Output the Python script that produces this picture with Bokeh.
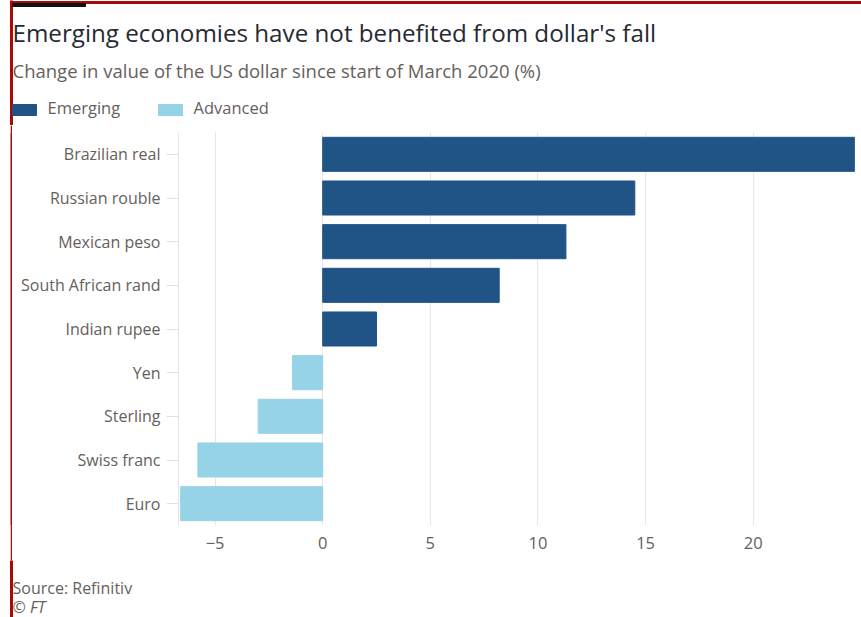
from bokeh.plotting import figure
from bokeh.models import FactorRange, Range1d, ColumnDataSource, FixedTicker
from bokeh.layouts import column, row, Spacer
from bokeh.core.properties import value
from bokeh.embed import file_html
from bokeh.resources import INLINE

currencies = ["Brazilian real", "Russian rouble", "Mexican peso", "South African rand",
              "Indian rupee", "Yen", "Sterling", "Swiss franc", "Euro"]
change = [24.7, 14.5, 11.3, 8.2, 2.5, -1.4, -3.0, -5.8, -6.6]
group = ["Emerging"] * 5 + ["Advanced"] * 4
legend_names = ["Emerging", "Advanced"]
x_ticks = [-5, 0, 5, 10, 15, 20]
title = "Emerging economies have not benefited from dollar's fall"
subtitle = "Change in value of the US dollar since start of March 2020 (%)"
source_note = "Source: Refinitiv"
credit = "© FT"

DARK = "#205487"
LIGHT = "#96d3e6"
TXT = "#66605c"
RED = "#a80a0a"
FONT = "Open Sans"
palette = {"Emerging": DARK, "Advanced": LIGHT}
colors = [palette[g] for g in group]

W, H = 861, 617
HEAD_H, FOOT_H = 125, 57
MAIN_H = H - HEAD_H - FOOT_H
LEFT_GAP, RED_W = 10, 2


def canvas_fig(w, h):
    f = figure(width=w, height=h, x_range=Range1d(0, w), y_range=Range1d(h, 0),
               output_backend="svg", toolbar_location=None, tools="",
               x_axis_location=None, y_axis_location=None,
               min_border=0, min_border_left=0, min_border_right=0,
               min_border_top=0, min_border_bottom=0)
    f.grid.visible = False
    f.outline_line_color = None
    f.background_fill_color = "white"
    f.border_fill_color = "white"
    return f


# ---- header ----
head = canvas_fig(W, HEAD_H)
head.quad(left=[10], right=[12], top=[0], bottom=[HEAD_H], color=RED)
head.quad(left=[10], right=[W], top=[1], bottom=[3], color=RED)
head.quad(left=[12], right=[85], top=[3], bottom=[6], color="#111111")
head.text(x=[12], y=[32], text=[title], text_font=value(FONT), text_font_size=value("24.2px"),
          text_color="#262a33", text_baseline="alphabetic")
head.text(x=[12], y=[70], text=[subtitle], text_font=value(FONT), text_font_size=value("18.5px"),
          text_color=TXT, text_baseline="alphabetic")
sw_x = [12, 158]
head.quad(left=sw_x, right=[x + 24 for x in sw_x], top=[104] * 2, bottom=[115] * 2,
          color=[palette[n] for n in legend_names])
head.text(x=[x + 35 for x in sw_x], y=[107] * 2, text=legend_names, text_font=value(FONT),
          text_font_size=value("16.5px"), text_color=TXT, text_baseline="alphabetic")

# ---- left red rule (figure filled red) ----
rule = figure(width=RED_W, height=MAIN_H, output_backend="svg", toolbar_location=None, tools="",
              x_axis_location=None, y_axis_location=None, min_border=0)
rule.grid.visible = False
rule.outline_line_color = None
rule.background_fill_color = RED
rule.border_fill_color = RED

# ---- main chart ----
FL = 178 - LEFT_GAP - RED_W
FR = 5
FT_ = 132 - HEAD_H
FB = (HEAD_H + MAIN_H) - 525

src = ColumnDataSource(dict(cur=currencies, val=change, col=colors))
p = figure(width=W - LEFT_GAP - RED_W, height=MAIN_H, y_range=FactorRange(*reversed(currencies)),
           x_range=(-6.7, 24.8), output_backend="svg", toolbar_location=None, tools="",
           min_border_left=FL, min_border_right=FR, min_border_top=FT_, min_border_bottom=FB)
p.hbar(y="cur", left=0, right="val", height=0.78, color="col", source=src)
p.background_fill_color = "white"
p.border_fill_color = "white"
p.outline_line_color = None
p.ygrid.grid_line_color = None
p.xgrid.grid_line_color = "#ebe5e1"
p.xgrid.ticker = FixedTicker(ticks=x_ticks)
p.xaxis.ticker = FixedTicker(ticks=x_ticks)
p.xaxis.axis_line_color = None
p.xaxis.major_tick_line_color = None
p.xaxis.minor_tick_line_color = None
p.xaxis.major_label_text_font = FONT
p.xaxis.major_label_text_font_size = "16.5px"
p.xaxis.major_label_text_color = TXT
p.xaxis.major_label_standoff = 5
p.yaxis.axis_line_color = "#ebe5e1"
p.yaxis.major_tick_line_color = "#e6dfda"
p.yaxis.major_tick_out = 12
p.yaxis.major_tick_in = 0
p.yaxis.major_label_text_font = FONT
p.yaxis.major_label_text_font_size = "16px"
p.yaxis.major_label_text_color = TXT
p.yaxis.major_label_standoff = 6

# ---- footer ----
foot = canvas_fig(W, FOOT_H)
foot.quad(left=[10], right=[12], top=[0], bottom=[FOOT_H], color=RED)
foot.text(x=[12], y=[27], text=[source_note], text_font=value(FONT), text_font_size=value("16px"),
          text_color=TXT, text_baseline="alphabetic")
foot.text(x=[12], y=[46], text=[credit], text_font=value(FONT), text_font_size=value("16px"),
          text_font_style="italic", text_color=TXT, text_baseline="alphabetic")

layout = column(head, row(Spacer(width=LEFT_GAP, height=MAIN_H), rule, p, spacing=0), foot, spacing=0)
open("out.html", "w").write(file_html(layout, INLINE))
